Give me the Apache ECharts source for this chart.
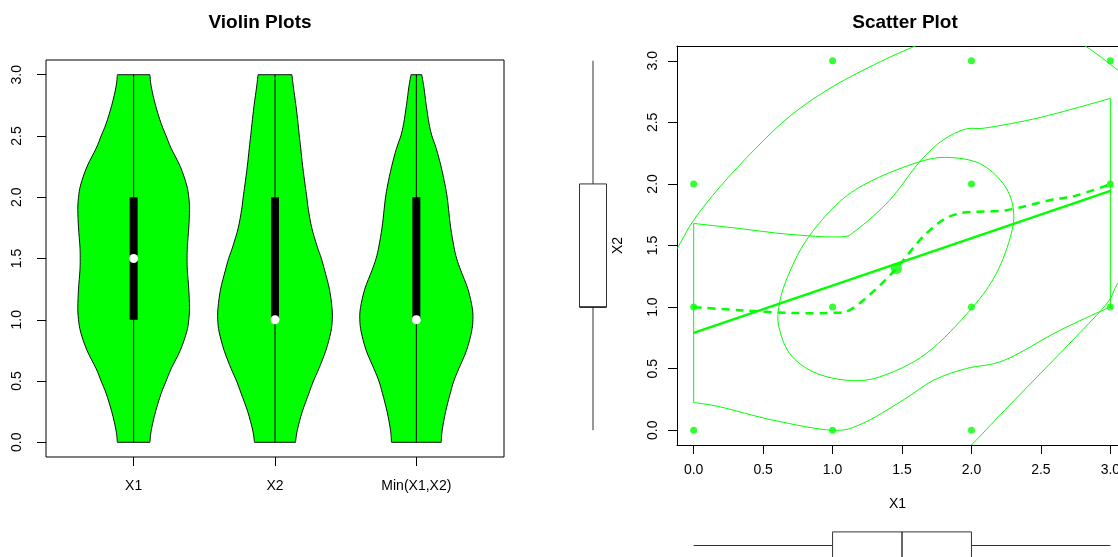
<!DOCTYPE html>
<html>
<head>
<meta charset="utf-8">
<script src="https://cdn.jsdelivr.net/npm/echarts@6/dist/echarts.min.js"></script>
<style>
html, body { margin: 0; padding: 0; background: #fff; overflow: hidden; }
#chart { width: 1118px; height: 557px; }
</style>
</head>
<body>
<div id="chart"></div>
<script>
// ---- violin plots ----
var violinNames = ['X1', 'X2', 'Min(X1,X2)'];
var violinLevels = [0, 0.1, 0.25, 0.4, 0.5, 0.6, 0.75, 0.9, 1.0, 1.1, 1.25, 1.4, 1.5, 1.6, 1.75, 1.9, 2.0, 2.1, 2.25, 2.4, 2.5, 2.6, 2.75, 2.9, 3.0];
// half widths of each violin at the levels above (x units)
var violinX1 = [0.115, 0.125, 0.155, 0.195, 0.23, 0.265, 0.33, 0.375, 0.39, 0.395, 0.39, 0.38, 0.378, 0.38, 0.39, 0.395, 0.39, 0.375, 0.33, 0.265, 0.23, 0.195, 0.155, 0.125, 0.115];
var violinX2 = [0.145, 0.158, 0.193, 0.24, 0.272, 0.31, 0.36, 0.395, 0.405, 0.403, 0.385, 0.352, 0.328, 0.298, 0.26, 0.236, 0.225, 0.213, 0.196, 0.182, 0.172, 0.163, 0.148, 0.13, 0.12];
var violinMin = [0.176, 0.183, 0.207, 0.24, 0.265, 0.3, 0.355, 0.39, 0.4, 0.395, 0.365, 0.315, 0.285, 0.265, 0.243, 0.228, 0.218, 0.203, 0.175, 0.14, 0.11, 0.09, 0.07, 0.053, 0.038];
// min, q1, median, q3, max
var violinStats = [[0, 1, 1.5, 2, 3], [0, 1, 1, 2, 3], [0, 1, 1, 2, 3]];
var yTicks = [0, 0.5, 1, 1.5, 2, 2.5, 3];

// ---- scatter plot ----
var scatterPoints = [[0, 0], [0, 1], [0, 2], [1, 0], [1, 1], [1, 3], [2, 0], [2, 1], [2, 2], [2, 3], [3, 1], [3, 2], [3, 3]];
var centroid = [[1.459, 1.313]];
var regLine = [[0, 0.791], [3, 1.944]];
var loessLine = [[0, 0.999], [0.331, 0.975], [0.676, 0.953], [1.003, 0.953], [1.123, 0.975], [1.291, 1.124], [1.459, 1.313], [1.675, 1.598], [1.891, 1.755], [2.251, 1.787], [2.563, 1.868], [2.752, 1.905], [3, 1.998]];
var innerEllipse = [[1.831, 2.215], [2.059, 2.166], [2.227, 2.004], [2.299, 1.814], [2.287, 1.598], [2.179, 1.273], [2.0, 0.988], [1.675, 0.623], [1.339, 0.433], [1.099, 0.406], [0.859, 0.474], [0.691, 0.623], [0.614, 0.839], [0.614, 1.002], [0.667, 1.219], [0.811, 1.543], [1.051, 1.855], [1.291, 2.031], [1.627, 2.18]];
var outerArcA = [[-0.2, 1.33], [-0.118, 1.476], [0, 1.706], [0.19, 1.977], [0.446, 2.288], [0.702, 2.559], [0.999, 2.789], [1.343, 2.992], [1.599, 3.122], [1.75, 3.19]];
var outerArcB = [[2.65, 3.2], [2.816, 3.122], [3.053, 2.924], [3.2, 2.78]];
var outerArcC = [[3.2, 1.42], [3.053, 1.192], [2.976, 1.03], [2.752, 0.758], [2.496, 0.46], [2.239, 0.162], [2.0, -0.12], [1.9, -0.22]];
var bandUpper = [[0, 1.679], [0.331, 1.638], [0.676, 1.592], [1.051, 1.57], [1.171, 1.625], [1.411, 1.868], [1.627, 2.18], [1.795, 2.356], [1.957, 2.445], [2.111, 2.456], [2.496, 2.54], [3, 2.694]];
var bandLower = [[0, 0.225], [0.19, 0.19], [0.574, 0.081], [0.999, 0.0], [1.214, 0.054], [1.507, 0.244], [1.727, 0.406], [1.963, 0.501], [2.239, 0.569], [2.635, 0.81], [3, 1.002]];
var bandLeft = [[0, 0.225], [0, 1.679]];
var bandRight = [[3, 1.002], [3, 2.694]];
var boxX1 = [0, 1, 1.5, 2, 3];
var boxX2 = [0, 1, 1, 2, 3];

var font = 'Liberation Sans, Arial, Helvetica, sans-serif';
var green = '#00ff00';
var violinWidths = [violinX1, violinX2, violinMin];

// catmull-rom through the points, as svg curve segments
function curve(p, closed) {
    var s = '';
    var n = p.length;
    var last = closed ? n : n - 1;
    for (var i = 0; i < last; i++) {
        var p0, p1 = p[i], p2, p3;
        if (closed) {
            p0 = p[(i - 1 + n) % n]; p2 = p[(i + 1) % n]; p3 = p[(i + 2) % n];
        } else {
            p0 = p[i - 1] || p[i]; p2 = p[i + 1]; p3 = p[i + 2] || p[i + 1];
        }
        var c1 = [p1[0] + (p2[0] - p0[0]) / 6, p1[1] + (p2[1] - p0[1]) / 6];
        var c2 = [p2[0] - (p3[0] - p1[0]) / 6, p2[1] - (p3[1] - p1[1]) / 6];
        s += ' C' + c1[0] + ',' + c1[1] + ' ' + c2[0] + ',' + c2[1] + ' ' + p2[0] + ',' + p2[1];
    }
    return s;
}

function renderViolin(params, api) {
    var i = params.dataIndex;
    var cx = i + 1;
    var w = violinWidths[i];
    var st = violinStats[i];
    var left = [], right = [];
    for (var k = 0; k < violinLevels.length; k++) {
        left.push(api.coord([cx - w[k], violinLevels[k]]));
        right.push(api.coord([cx + w[k], violinLevels[k]]));
    }
    right.reverse();
    var d = 'M' + left[0][0] + ',' + left[0][1] + curve(left) +
        ' L' + right[0][0] + ',' + right[0][1] + curve(right) + ' Z';
    var lo = api.coord([cx, st[0]]), q1 = api.coord([cx, st[1]]), med = api.coord([cx, st[2]]);
    var q3 = api.coord([cx, st[3]]), hi = api.coord([cx, st[4]]);
    return {
        type: 'group',
        children: [
            {type: 'path', shape: {pathData: d}, style: {fill: green, stroke: '#111', lineWidth: 1}},
            {type: 'line', shape: {x1: lo[0], y1: lo[1], x2: hi[0], y2: hi[1]}, style: {stroke: '#000', lineWidth: 1}},
            {type: 'rect', shape: {x: q3[0] - 4, y: q3[1], width: 8, height: q1[1] - q3[1]}, style: {fill: '#000'}},
            {type: 'circle', shape: {cx: med[0], cy: med[1], r: 4.5}, style: {fill: '#fff'}}
        ]
    };
}

// smooth green curve in the scatter, clipped to the plot box
function curveSeries(points, opts) {
    opts = opts || {};
    return {
        type: 'custom', xAxisIndex: 1, yAxisIndex: 1, data: [[0, 0]], silent: true,
        renderItem: function (params, api) {
            var p = points.map(function (v) { return api.coord(v); });
            var d = 'M' + p[0][0] + ',' + p[0][1];
            if (opts.straight) {
                for (var i = 1; i < p.length; i++) d += ' L' + p[i][0] + ',' + p[i][1];
            } else {
                d += curve(p, opts.closed);
            }
            if (opts.closed) d += ' Z';
            var cs = params.coordSys;
            return {
                type: 'path',
                shape: {pathData: d},
                clipPath: {type: 'rect', shape: {x: cs.x, y: cs.y, width: cs.width, height: cs.height}},
                style: {fill: null, stroke: green, lineWidth: opts.width || 1, lineDash: opts.dash || null}
            };
        }
    };
}

// horizontal boxplot for X1 (under the scatter)
function renderBoxX1(params, api) {
    var p = boxX1.map(function (v) { return api.coord([v, 1]); });
    var h = 13.6;
    var st = {stroke: '#333', lineWidth: 1};
    return {
        type: 'group',
        children: [
            {type: 'line', shape: {x1: p[0][0], y1: p[0][1], x2: p[1][0], y2: p[1][1]}, style: st},
            {type: 'line', shape: {x1: p[3][0], y1: p[3][1], x2: p[4][0], y2: p[4][1]}, style: st},
            {type: 'rect', shape: {x: p[1][0], y: p[1][1] - h, width: p[3][0] - p[1][0], height: 2 * h}, style: {fill: '#fff', stroke: '#333', lineWidth: 1}},
            {type: 'line', shape: {x1: p[2][0], y1: p[2][1] - h, x2: p[2][0], y2: p[2][1] + h}, style: {stroke: '#000', lineWidth: 1.2}}
        ]
    };
}

// vertical boxplot for X2 (left of the scatter)
function renderBoxX2(params, api) {
    var p = boxX2.map(function (v) { return api.coord([1, v]); });
    var h = 13.5;
    var st = {stroke: '#333', lineWidth: 1};
    return {
        type: 'group',
        children: [
            {type: 'line', shape: {x1: p[0][0], y1: p[0][1], x2: p[1][0], y2: p[1][1]}, style: st},
            {type: 'line', shape: {x1: p[3][0], y1: p[3][1], x2: p[4][0], y2: p[4][1]}, style: st},
            {type: 'rect', shape: {x: p[1][0] - h, y: p[3][1], width: 2 * h, height: p[1][1] - p[3][1]}, style: {fill: '#fff', stroke: '#333', lineWidth: 1}},
            {type: 'line', shape: {x1: p[2][0] - h, y1: p[2][1], x2: p[2][0] + h, y2: p[2][1]}, style: {stroke: '#000', lineWidth: 1.2}}
        ]
    };
}

var labelStyle = {color: '#000', fontSize: 14, fontFamily: font};
var tick = {show: true, inside: false, length: 9, lineStyle: {color: '#000', width: 1}};
var blackLine = {show: true, onZero: false, lineStyle: {color: '#000', width: 1}};

var myChart = echarts.init(document.getElementById('chart'), null, {renderer: 'canvas'});
var option = {
    backgroundColor: '#fff',
    animation: false,
    title: [{
        text: 'Violin Plots', left: 255, top: 8, textAlign: 'center',
        textStyle: {fontSize: 19, fontWeight: 'bold', color: '#000', fontFamily: font}
    }, {
        text: 'Scatter Plot', left: 900, top: 8, textAlign: 'center',
        textStyle: {fontSize: 19, fontWeight: 'bold', color: '#000', fontFamily: font}
    }],
    grid: [
        {left: 46, top: 60, width: 458, height: 397, show: true, borderColor: '#000', borderWidth: 1, backgroundColor: 'transparent', outerBoundsMode: 'none'},
        {left: 677, top: 46, width: 441, height: 399, outerBoundsMode: 'none'},
        {left: 573, top: 46, width: 40, height: 399, outerBoundsMode: 'none'},
        {left: 677, top: 532, width: 441, height: 27, outerBoundsMode: 'none'}
    ],
    xAxis: [{
        gridIndex: 0, type: 'value', min: 0.38, max: 3.62,
        axisLine: {show: false, onZero: false}, splitLine: {show: false},
        axisTick: Object.assign({customValues: [1, 2, 3]}, tick),
        axisLabel: Object.assign({customValues: [1, 2, 3], margin: 22, formatter: function (v) { return violinNames[Math.round(v) - 1]; }}, labelStyle)
    }, {
        gridIndex: 1, type: 'value', min: -0.12, max: 3.055,
        name: 'X1', nameLocation: 'middle', nameGap: 52, nameTextStyle: labelStyle,
        axisLine: blackLine, splitLine: {show: false},
        axisTick: Object.assign({customValues: yTicks}, tick),
        axisLabel: Object.assign({customValues: yTicks, margin: 18, formatter: function (v) { return v.toFixed(1); }}, labelStyle)
    }, {
        gridIndex: 2, type: 'value', min: 0, max: 2, show: false
    }, {
        gridIndex: 3, type: 'value', min: -0.12, max: 3.055, show: false
    }, {
        // top edge of the scatter box
        gridIndex: 1, type: 'value', position: 'top', min: -0.12, max: 3.055,
        axisLine: blackLine, axisTick: {show: false}, axisLabel: {show: false}, splitLine: {show: false}
    }],
    yAxis: [{
        gridIndex: 0, type: 'value', min: -0.12, max: 3.12,
        axisLine: {show: false, onZero: false}, splitLine: {show: false},
        axisTick: Object.assign({customValues: yTicks}, tick),
        axisLabel: Object.assign({customValues: yTicks, margin: 22, rotate: 90, formatter: function (v) { return v.toFixed(1); }}, labelStyle)
    }, {
        gridIndex: 1, type: 'value', min: -0.12, max: 3.12,
        name: 'X2', nameLocation: 'middle', nameGap: 52, nameRotate: 90, nameTextStyle: labelStyle,
        axisLine: blackLine, splitLine: {show: false},
        axisTick: Object.assign({customValues: yTicks}, tick),
        axisLabel: Object.assign({customValues: yTicks, margin: 17, rotate: 90, formatter: function (v) { return v.toFixed(1); }}, labelStyle)
    }, {
        gridIndex: 2, type: 'value', min: -0.12, max: 3.12, show: false
    }, {
        gridIndex: 3, type: 'value', min: 0, max: 2, show: false
    }],
    series: [
        {
            type: 'custom', xAxisIndex: 0, yAxisIndex: 0, renderItem: renderViolin,
            data: violinNames.map(function (n, i) { return [i + 1, 1.5]; }), silent: true
        },
        {
            type: 'scatter', xAxisIndex: 1, yAxisIndex: 1, data: scatterPoints,
            symbol: 'circle', symbolSize: 7, itemStyle: {color: green}, silent: true
        },
        {
            type: 'scatter', xAxisIndex: 1, yAxisIndex: 1, data: centroid,
            symbol: 'circle', symbolSize: 11, itemStyle: {color: green}, silent: true
        },
        {
            type: 'line', xAxisIndex: 1, yAxisIndex: 1, data: regLine, showSymbol: false, symbol: 'none',
            lineStyle: {color: green, width: 2.5}, silent: true
        },
        curveSeries(loessLine, {width: 2.5, dash: [8, 6]}),
        curveSeries(innerEllipse, {closed: true}),
        curveSeries(outerArcA),
        curveSeries(outerArcB),
        curveSeries(outerArcC),
        curveSeries(bandUpper),
        curveSeries(bandLower),
        curveSeries(bandLeft, {straight: true}),
        curveSeries(bandRight, {straight: true}),
        {
            type: 'custom', xAxisIndex: 2, yAxisIndex: 2, renderItem: renderBoxX2, data: [[1, 1.5]], silent: true
        },
        {
            type: 'custom', xAxisIndex: 3, yAxisIndex: 3, renderItem: renderBoxX1, data: [[1.5, 1]], silent: true
        }
    ]
};
myChart.setOption(option);
</script>
</body>
</html>
